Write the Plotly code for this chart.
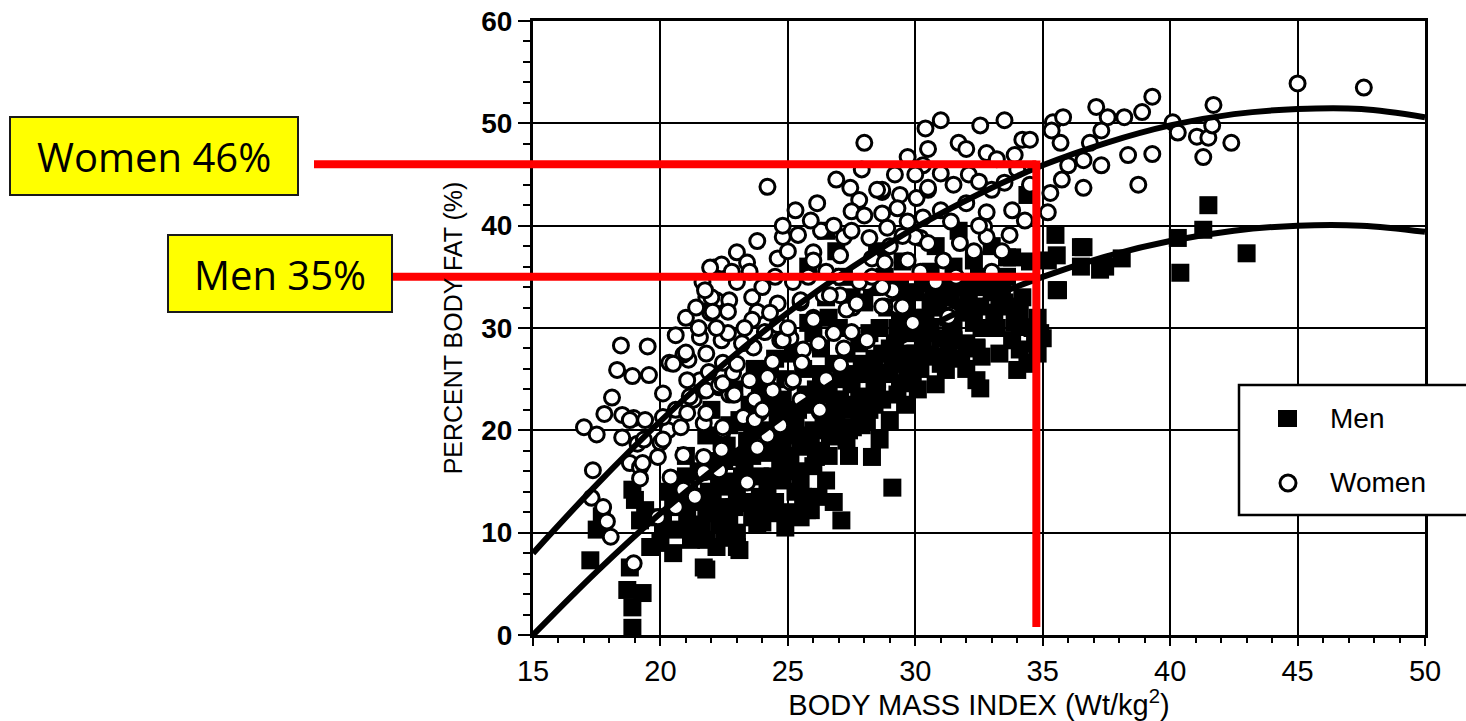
import plotly.graph_objects as go

# ---------------- data ----------------
women_bmi = [17.0, 17.5, 17.35, 17.3, 17.75, 17.9, 18.05, 18.45, 19.5, 18.3, 18.9, 19.55, 18.1, 17.8, 18.5, 18.95,
             18.5, 19.1, 18.8, 19.2, 19.35, 18.95, 20.0, 19.9, 20.3, 20.9, 21.15, 20.6, 21.3, 21.55, 21.1, 20.6,
             20.1, 20.1, 20.35, 20.9, 21.55, 21.05, 21.7, 21.8, 21.65, 22.1, 22.2, 21.95, 22.4, 22.45, 22.3, 20.1,
             20.8, 21.7, 22.45, 19.3, 19.9, 19.2, 20.4, 20.9, 21.7, 22.3, 21.35, 20.6, 21.05, 22.4, 22.7, 23.4,
             23.8, 24.2, 24.4, 19.4, 18.8, 26.25, 21.7, 23.7, 23.9, 23.25, 25.1, 21.8, 22.3, 22.85,
             24.2, 25.3, 26.15, 27.45, 27.8, 27.5, 28.7, 29.4, 30.05, 30.5, 28.7, 29.7, 30.2, 28.9, 28.2, 27.2,
             26.0, 25.4, 24.8, 23.0, 22.4, 21.95, 23.4, 24.6, 26.0, 27.05, 28.3, 29.7, 29.3, 28.8, 27.05, 27.55,
             26.4, 25.5, 24.6, 23.6, 22.7, 22.0, 21.75, 22.05, 22.65, 23.8, 23.6, 24.6, 26.0, 24.7, 25.1, 25.6,
             24.1, 23.65, 22.65, 21.0, 21.9, 22.45, 22.9, 23.5, 24.2, 25.2, 24.4, 22.85, 21.15, 21.8, 22.45, 23.7,
             24.0, 26.25, 27.05, 28.1,
             29.5, 31.4, 25.55, 27.5, 28.7, 27.3, 26.0, 25.5, 26.65, 27.7, 28.1, 29.1, 24.8,
             30.4, 31.0, 32.55, 33.5, 31.7, 34.2, 32.8, 33.9, 29.7, 30.3, 31.0, 32.1, 32.5, 33.5, 28.7, 30.5,
             32.0, 32.8, 29.3, 30.3, 31.4, 30.0, 30.5, 31.75, 32.7, 32.8, 33.7, 31.1, 28.8, 31.3, 28.7,
             35.4, 35.8, 35.35, 35.7, 37.1, 37.55, 38.2, 37.3, 36.85, 38.35, 36.0, 36.6, 37.3, 35.75, 36.6, 35.3,
             35.2, 38.75, 45.0, 47.6, 39.3, 38.9, 40.1, 40.3, 41.05, 41.5, 41.7, 41.65, 41.3, 42.4, 39.3, 34.5,
             28.0, 21.0, 21.4, 22.2, 23.0, 23.2, 23.5, 24.0, 24.3, 24.5, 25.0, 25.2, 25.8, 26.3, 26.5, 26.8,
             27.0, 27.5, 27.8, 28.0, 28.3, 28.5, 29.0, 29.2, 29.5, 30.0, 30.5, 31.0, 31.5, 32.0, 32.5, 33.0,
             33.2, 33.8, 34.0, 34.5, 26.9, 27.9, 25.9, 24.8, 23.8, 22.8, 21.5, 20.5, 21.8, 23.0, 23.3, 25.0,
             26.2, 26.8, 27.2, 26.5, 25.5, 24.7, 30.8, 29.9, 31.6, 32.3, 33.4, 34.3, 33.0, 30.2]
women_fat = [20.3, 19.6, 16.1, 13.4, 12.5, 11.1, 9.6, 28.3, 28.2, 25.9, 25.3, 25.4, 23.2, 21.6, 21.5, 21.2,
             19.3, 18.7, 16.8, 16.4, 19.1, 7.0, 18.8, 11.5, 20.0, 17.6, 14.2, 22.0, 23.0, 24.9, 26.9, 29.3,
             21.3, 23.6, 26.6, 27.4, 29.1, 24.9, 23.9, 33.0, 34.5, 35.9, 32.7, 31.5, 28.8, 26.6, 24.2, 19.1,
             20.3, 20.7, 20.0, 16.8, 17.4, 15.3, 15.4, 14.2, 15.9, 16.1, 13.5, 12.5, 21.7, 18.1, 23.5, 14.9,
             18.3, 19.5, 23.9, 21.0, 21.0, 21.8, 17.4, 23.0, 21.7, 21.3, 24.7, 23.9, 24.4, 23.5,
             43.8, 41.5, 42.2, 43.7, 42.5, 41.4, 43.3, 43.0, 42.7, 43.5, 41.2, 40.4, 38.8, 39.8, 38.8, 38.9,
             37.4, 39.1, 38.9, 37.4, 36.2, 35.9, 36.4, 36.8, 36.6, 37.1, 36.8, 36.6, 32.1, 32.1, 33.2, 32.0,
             33.2, 32.5, 32.4, 33.0, 32.7, 33.0, 33.7, 31.6, 31.6, 31.6, 30.8, 30.3, 31.0, 28.8, 29.0, 27.9,
             29.6, 28.1, 29.5, 27.6, 25.7, 24.6, 23.5, 24.9, 25.2, 24.9, 26.7, 25.6, 23.3, 21.7, 20.3, 21.0,
             22.0, 22.0, 26.4, 28.8,
             32.1, 31.3, 26.6, 29.6, 32.1, 31.8, 30.8, 32.7, 33.2, 32.4, 34.4, 33.7, 28.8,
             49.5, 50.3, 49.8, 50.3, 48.1, 48.4, 47.1, 46.9, 46.7, 45.9, 45.1, 45.0, 44.3, 44.2, 43.5, 43.7,
             42.2, 41.3, 41.7, 40.8, 40.4, 38.9, 38.3, 38.3, 39.9, 38.9, 39.1, 36.6, 36.4, 31.1, 34.0,
             50.1, 50.6, 49.3, 48.1, 51.6, 50.6, 50.6, 49.3, 48.1, 46.9, 45.9, 46.4, 45.9, 44.5, 43.7, 43.2,
             41.3, 44.0, 53.9, 53.5, 52.6, 51.1, 50.1, 49.1, 48.7, 48.6, 51.8, 49.8, 46.7, 48.1, 47.0, 48.4,
             48.1, 31.0, 32.0, 30.0, 34.5, 28.5, 35.5, 34.0, 31.5, 35.0, 37.5, 34.5, 35.0, 39.5, 35.5, 40.0,
             35.0, 39.5, 34.5, 41.0, 35.0, 43.5, 38.0, 45.0, 39.0, 45.0, 47.5, 41.5, 44.0, 47.5, 40.0, 43.5,
             46.5, 41.5, 45.5, 44.0, 44.5, 45.5, 40.5, 40.0, 38.5, 35.5, 30.0, 26.5, 27.5, 26.5, 30.0, 30.0,
             28.5, 29.5, 28.0, 25.0, 23.0, 20.5, 34.5, 30.5, 35.0, 37.5, 37.5, 40.5, 35.5, 35.5]

men_bmi = [17.25, 18.8, 18.7, 19.3, 18.9, 18.9, 18.9, 19.2, 19.6, 20.5, 21.7, 23.0, 22.2, 21.2, 20.1, 21.05,
           23.8, 24.4, 22.7, 21.8, 21.4, 20.65, 17.5, 17.7, 19.0, 19.4,
           29.1, 27.1, 28.3, 28.6, 27.55, 26.65, 25.75, 26.5, 25.2, 24.6, 23.1, 21.8, 26.1, 24.8, 25.5, 23.8,
           22.3, 21.8, 27.05, 28.1, 28.7, 24.8, 24.2, 23.1, 23.0, 22.05, 25.5,
           25.9, 27.4, 32.55, 32.4, 32.6, 34.0, 31.2, 30.6, 29.9, 29.4, 28.5, 27.8, 26.85, 34.1, 34.1, 33.7,
           33.3, 32.4, 32.3, 33.8, 35.2, 34.9, 31.5, 32.0, 29.7, 29.0,
           34.4, 33.6, 35.5, 35.55, 35.55, 36.5, 36.5, 37.25, 38.1, 34.1, 33.8, 34.4, 32.4, 31.5, 30.7, 30.6,
           29.4, 30.3, 31.4, 32.55, 41.5, 43.0, 40.4, 41.3, 40.3, 37.45, 36.6, 35.6, 34.8, 34.6, 35.0,
           21.5, 21.8, 22.0, 22.3, 22.5, 22.7, 22.9, 23.2, 23.4, 23.5, 23.7, 23.9, 24.1, 24.3, 24.5, 24.7,
           24.9, 25.0, 25.2, 25.4, 25.6, 25.8, 26.0, 26.1, 26.3, 26.5, 26.7, 26.8, 27.0, 27.2, 27.4, 27.6,
           27.8, 28.0, 28.2, 28.4, 28.6, 28.8, 29.0, 29.2, 29.4, 29.6, 29.8, 30.0, 30.2, 30.4, 30.6, 30.8,
           31.0, 31.2, 31.5, 31.8, 32.0, 32.2, 32.6, 33.0, 33.3, 33.6, 33.9, 34.2, 34.5, 34.7, 34.8, 34.5,
           22.1, 23.0, 24.0, 24.4, 25.3, 25.9, 26.4, 26.9, 27.3, 27.9, 28.5, 29.1, 29.7, 30.3, 30.9, 31.4,
           32.4, 20.5, 20.8, 21.2, 21.0, 20.3, 19.8, 20.0, 22.6, 23.3, 25.0, 26.2, 24.6, 23.8, 26.5, 25.8,
           26.9, 29.5, 28.5, 30.8, 31.7, 33.0,
           22.0, 22.4, 22.8, 23.1, 23.6, 23.9, 24.2, 24.5, 24.8, 25.1, 25.3, 25.6, 25.7, 26.0, 26.3, 26.6,
           26.9, 27.1, 27.3, 27.6, 27.9, 28.2, 28.4, 28.7, 28.9, 29.3, 29.6, 29.9, 30.1, 30.5, 30.7, 31.0,
           31.3, 31.6, 32.0, 32.3, 32.8, 33.2, 33.5, 23.6, 24.9, 22.5, 21.0, 21.6, 24.3, 25.2, 26.0, 26.6,
           27.5, 28.3,
           21.3, 21.9, 22.2, 22.6, 23.0, 23.3, 23.6, 23.9, 24.2, 24.5, 24.8, 25.1, 25.4, 25.7, 26.0, 26.3,
           26.6, 26.9, 27.2, 27.5, 27.8, 28.1, 28.4, 28.7, 29.0, 29.3, 29.6, 30.0, 30.3, 30.6, 31.0, 31.3,
           31.7, 32.1, 32.5, 33.1, 33.4, 22.9, 24.1, 25.5, 26.8]
men_fat = [7.3, 6.6, 4.4, 4.1, 2.7, 0.7, 14.2, 11.2, 8.6, 8.0, 6.6, 8.6, 8.6, 9.3, 10.9, 11.9,
           10.9, 12.9, 11.2, 11.9, 13.5, 10.3, 10.3, 11.6, 13.2, 12.2,
           14.4, 11.2, 17.4, 19.1, 20.3, 19.4, 12.2, 15.1, 12.0, 11.9, 8.3, 6.4, 17.4, 15.1, 18.4, 12.5,
           10.9, 9.3, 23.0, 21.0, 23.0, 21.0, 17.8, 17.4, 12.9, 13.2, 15.1,
           12.2, 20.0, 24.1, 24.9, 27.2, 25.9, 25.9, 27.4, 24.9, 24.6, 23.6, 23.3, 22.7, 27.9, 30.1, 32.1,
           32.7, 34.0, 36.6, 36.9, 36.6, 29.5, 29.8, 28.5, 26.9, 25.6,
           43.0, 36.9, 39.1, 37.1, 33.7, 37.9, 36.0, 35.7, 36.8, 31.5, 28.8, 26.6, 28.1, 28.8, 27.2, 30.1,
           34.0, 34.4, 33.4, 32.1, 42.0, 37.3, 35.4, 39.6, 38.8, 36.0, 37.9, 33.7, 27.5, 30.0, 29.0,
           16.0, 19.5, 22.0, 14.5, 17.0, 20.5, 24.0, 15.5, 19.0, 22.5, 26.0, 13.5, 20.0, 23.5, 27.0, 17.0,
           25.0, 29.0, 19.5, 22.0, 26.0, 30.5, 16.5, 24.0, 28.0, 33.0, 20.5, 26.5, 30.0, 35.0, 17.5, 25.5,
           28.5, 32.5, 22.0, 27.0, 30.0, 35.0, 21.0, 28.5, 31.0, 22.5, 29.5, 33.5, 26.0, 31.0, 35.5, 24.5,
           29.0, 33.0, 36.0, 27.0, 31.5, 34.5, 30.0, 33.5, 27.5, 35.0, 30.5, 33.0, 36.5, 28.5, 31.0, 26.5,
           12.0, 10.0, 11.0, 15.5, 14.0, 18.5, 21.0, 23.0, 27.5, 20.5, 25.0, 26.5, 25.5, 28.5, 32.0, 30.0,
           28.0, 12.5, 15.0, 13.0, 17.5, 14.0, 11.5, 9.0, 12.5, 13.0, 16.5, 13.5, 21.5, 22.0, 39.5, 36.0,
           37.5, 36.5, 37.5, 38.0, 39.5, 38.0,
           17.0, 19.0, 15.0, 21.0, 17.5, 24.5, 14.5, 19.0, 23.0, 17.5, 21.0, 13.5, 23.5, 20.0, 25.5, 17.5,
           21.5, 25.0, 19.0, 22.5, 26.5, 29.5, 24.0, 27.5, 32.0, 23.5, 27.5, 31.0, 24.0, 29.5, 33.0, 26.5,
           31.0, 34.0, 26.0, 30.5, 34.0, 30.0, 32.5, 11.5, 10.5, 9.5, 15.5, 10.8, 26.0, 27.5, 29.5, 31.0,
           33.0, 34.0,
           10.5, 14.0, 16.0, 18.5, 14.5, 17.0, 20.0, 15.5, 22.5, 13.0, 18.0, 21.5, 16.0, 19.5, 22.5, 18.0,
           23.5, 19.5, 22.0, 24.5, 21.5, 25.5, 22.5, 25.5, 28.0, 30.0, 32.5, 27.5, 30.0, 32.5, 34.5, 27.5,
           32.0, 33.0, 35.0, 31.5, 34.0, 12.5, 12.0, 11.5, 13.0]

# fitted curves as drawn in the figure
curve_bmi = [15, 17.5, 20, 22.5, 25, 27.5, 30, 32.5, 35, 37.5, 40, 42.5, 45, 47.5, 50]
women_curve = [8.0, 14.7, 20.9, 26.5, 31.5, 35.9, 39.8, 43.1, 45.9, 48.1, 49.8, 50.9, 51.4, 51.4, 50.6]
men_curve = [0.0, 6.2, 11.9, 17.0, 21.7, 25.8, 29.4, 32.5, 35.0, 37.0, 38.5, 39.5, 40.0, 40.0, 39.4]

x_ticks = [15, 20, 25, 30, 35, 40, 45, 50]
y_ticks = [0, 10, 20, 30, 40, 50, 60]

callout_women = ("Women 46%", 46)
callout_men = ("Men 35%", 35)
callout_bmi = 34.75

# ---------------- figure ----------------
AX_FONT = "Liberation Sans, Arial, Helvetica, sans-serif"
fig = go.Figure()

fig.add_trace(go.Scatter(x=men_bmi, y=men_fat, mode="markers", name="Men", showlegend=False,
                         marker=dict(symbol="square", size=18, color="black", line=dict(width=0))))
fig.add_trace(go.Scatter(x=women_bmi, y=women_fat, mode="markers", name="Women", showlegend=False,
                         marker=dict(symbol="circle", size=15, color="white", line=dict(width=3, color="black"))))
fig.add_trace(go.Scatter(x=curve_bmi, y=women_curve, mode="lines", showlegend=False, line_shape="spline",
                         line=dict(color="black", width=6)))
fig.add_trace(go.Scatter(x=curve_bmi, y=men_curve, mode="lines", showlegend=False, line_shape="spline",
                         line=dict(color="black", width=6)))

L, R, T, B = 533, 41, 21, 86
W, H = 1466, 721
pw, ph = W - L - R, H - T - B


def px(xp):
    return (xp - L) / pw


def py(yp):
    return (H - B - yp) / ph


shapes = []
ymax = 60.0
xp_line = (callout_bmi - 15) / 35
shapes.append(dict(type="line", xref="paper", yref="paper", x0=px(314), x1=xp_line,
                   y0=callout_women[1] / ymax, y1=callout_women[1] / ymax, line=dict(color="#ff0000", width=8)))
shapes.append(dict(type="line", xref="paper", yref="paper", x0=px(393), x1=xp_line,
                   y0=callout_men[1] / ymax, y1=callout_men[1] / ymax, line=dict(color="#ff0000", width=8)))
shapes.append(dict(type="line", xref="paper", yref="paper", x0=xp_line, x1=xp_line,
                   y0=py(627), y1=callout_women[1] / ymax + 0.006, line=dict(color="#ff0000", width=8)))
shapes.append(dict(type="rect", xref="paper", yref="paper", x0=px(10), x1=px(298), y0=py(195), y1=py(117),
                   fillcolor="#ffff00", line=dict(color="#1a1a1a", width=2)))
shapes.append(dict(type="rect", xref="paper", yref="paper", x0=px(168), x1=px(392), y0=py(312), y1=py(235),
                   fillcolor="#ffff00", line=dict(color="#1a1a1a", width=2)))
# legend box
shapes.append(dict(type="rect", xref="paper", yref="paper", x0=px(1239), x1=px(1475), y0=py(515), y1=py(385),
                   fillcolor="white", line=dict(color="black", width=2.5), layer="above"))
shapes.append(dict(type="rect", xref="paper", yref="paper", x0=px(1278), x1=px(1297), y0=py(427), y1=py(410),
                   fillcolor="black", line=dict(width=0), layer="above"))
shapes.append(dict(type="circle", xref="paper", yref="paper", x0=px(1280), x1=px(1296), y0=py(491), y1=py(475),
                   fillcolor="white", line=dict(color="black", width=3), layer="above"))

annotations = [
    dict(text=callout_women[0], xref="paper", yref="paper", x=px(154), y=py(156), showarrow=False,
         font=dict(family="Open Sans, Lato, sans-serif", size=40, color="black"), xanchor="center", yanchor="middle"),
    dict(text=callout_men[0], xref="paper", yref="paper", x=px(280), y=py(274), showarrow=False,
         font=dict(family="Open Sans, Lato, sans-serif", size=40, color="black"), xanchor="center", yanchor="middle"),
    dict(text="Men", xref="paper", yref="paper", x=px(1328), y=py(418), showarrow=False, xanchor="left",
         yanchor="middle", font=dict(family=AX_FONT, size=28, color="black")),
    dict(text="Women", xref="paper", yref="paper", x=px(1328), y=py(482), showarrow=False, xanchor="left",
         yanchor="middle", font=dict(family=AX_FONT, size=28, color="black")),
]

fig.update_layout(
    width=W, height=H, autosize=False,
    margin=dict(l=L, r=R, t=T, b=B, autoexpand=False),
    paper_bgcolor="white", plot_bgcolor="white",
    shapes=shapes, annotations=annotations,
    showlegend=False,
)
fig.update_xaxes(range=[15, 50], tickvals=x_ticks, ticks="outside", ticklen=8, tickwidth=2, tickcolor="black",
                 showline=True, linecolor="black", linewidth=2.5, mirror=True, automargin=False,
                 showgrid=True, gridcolor="black", gridwidth=1.5, zeroline=False,
                 minor=dict(dtick=1, ticks="outside", ticklen=5, tickwidth=1.5, tickcolor="black", showgrid=False),
                 tickfont=dict(family=AX_FONT, size=29, color="black"),
                 title=dict(text="BODY MASS INDEX (Wt/kg<sup>2</sup>)", standoff=8,
                            font=dict(family=AX_FONT, size=29, color="black")))
fig.update_yaxes(range=[0, 60], tickvals=y_ticks, ticks="outside", ticklen=12, tickwidth=2, tickcolor="black",
                 showline=True, linecolor="black", linewidth=3, mirror=True, automargin=False,
                 showgrid=True, gridcolor="black", gridwidth=1.5, zeroline=False,
                 minor=dict(dtick=2, ticks="outside", ticklen=7, tickwidth=1.5, tickcolor="black", showgrid=False),
                 tickfont=dict(family=AX_FONT, size=28, color="black", weight="bold"),
                 title=dict(text="PERCENT BODY FAT (%)", standoff=12,
                            font=dict(family=AX_FONT, size=25, color="black")))

fig.write_html("out.html", config={"displayModeBar": False},
               post_script="document.body.style.margin='0';")
